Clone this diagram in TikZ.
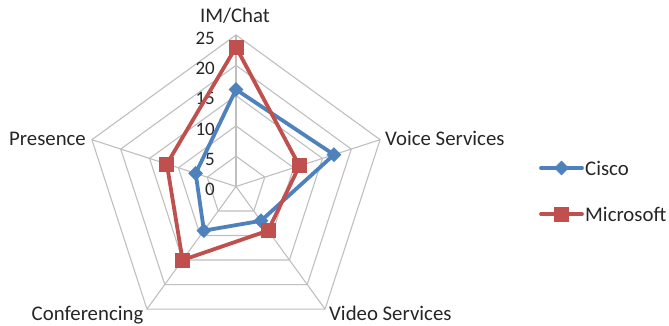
\documentclass[tikz,border=0pt]{standalone}
\usepackage{fontspec}
\setmainfont{Carlito}
\usetikzlibrary{shapes.geometric,calc}
\definecolor{ciscoblue}{HTML}{4F81BD}
\definecolor{msred}{HTML}{C0504D}
\definecolor{gridgray}{HTML}{BFBFBF}
\definecolor{labeltext}{HTML}{262626}
\tikzset{
  gridline/.style={draw=gridgray,line width=1.1},
  ciscoline/.style={draw=ciscoblue,line width=3.8},
  msline/.style={draw=msred,line width=3.8},
  ciscomark/.style={diamond,fill=ciscoblue,inner sep=0pt,minimum width=15,minimum height=15},
  msmark/.style={rectangle,fill=msred,inner sep=0pt,minimum size=15},
  axislabel/.style={text=labeltext,inner sep=0pt,font=\fontsize{20.8}{25}\selectfont},
  ticklabel/.style={text=labeltext,inner sep=0pt,anchor=east,font=\fontsize{19}{23}\selectfont}
}
\begin{document}
\begin{tikzpicture}[x=1pt,y=1pt,line join=round,line cap=round]
  \useasboundingbox (0,0) rectangle (669,325);
  \def\u{6.06}
  \begin{scope}[shift={(236,138.5)}]
    % rings and spokes
    \foreach \r in {5,10,...,25}
      \draw[gridline] (90:\r*\u) -- (18:\r*\u) -- (-54:\r*\u) -- (-126:\r*\u) -- (162:\r*\u) -- cycle;
    \foreach \a in {90,18,-54,-126,162}
      \draw[gridline] (0,0) -- (\a:25*\u);
    \foreach \r in {0,5,...,25}
      \node[ticklabel] (t\r) at (-21,\r*\u-3) {\r};
    % Cisco
    \coordinate (c1) at (90:16*\u);
    \coordinate (c2) at (18:17*\u);
    \coordinate (c3) at (-54:7*\u);
    \coordinate (c4) at (-126:9*\u);
    \coordinate (c5) at (162:7*\u);
    \draw[ciscoline] (c1) -- (c2) -- (c3) -- (c4) -- (c5) -- cycle;
    \foreach \i in {1,...,5}
      \node[ciscomark] (cm\i) at (c\i) {};
    % Microsoft
    \coordinate (m1) at (90:23*\u);
    \coordinate (m2) at (18:11*\u);
    \coordinate (m3) at (-54:9*\u);
    \coordinate (m4) at (-126:15*\u);
    \coordinate (m5) at (162:12*\u);
    \draw[msline] (m1) -- (m2) -- (m3) -- (m4) -- (m5) -- cycle;
    \foreach \i in {1,...,5}
      \node[msmark] (mm\i) at (m\i) {};
  \end{scope}
  % category labels
  \node[axislabel,anchor=base] (im) at (235,302) {IM/Chat};
  \node[axislabel,anchor=base west] (voice) at (385,180) {Voice Services};
  \node[axislabel,anchor=base west] (video) at (329,5) {Video Services};
  \node[axislabel,anchor=base east] (conf) at (143.5,5) {Conferencing};
  \node[axislabel,anchor=base east] (pres) at (86,179.5) {Presence};
  % legend
  \coordinate (lc1) at (541,157);
  \coordinate (lc2) at (582,157);
  \draw[ciscoline] (lc1) -- (lc2);
  \node[ciscomark] (lcm) at ($(lc1)!0.5!(lc2)$) {};
  \node[axislabel,anchor=west] (lcisco) at (585,157) {Cisco};
  \coordinate (lm1) at (541,111);
  \coordinate (lm2) at (582,111);
  \draw[msline] (lm1) -- (lm2);
  \node[msmark] (lmm) at ($(lm1)!0.5!(lm2)$) {};
  \node[axislabel,anchor=west] (lms) at (585,111) {Microsoft};
\end{tikzpicture}
\end{document}
